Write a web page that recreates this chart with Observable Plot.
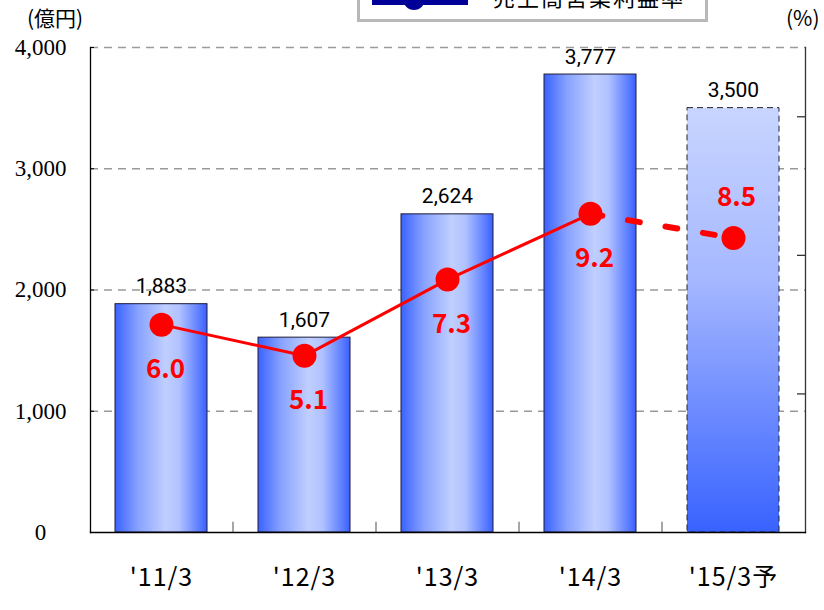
<!DOCTYPE html>
<html><head><meta charset="utf-8">
<script src="https://cdn.jsdelivr.net/npm/d3@7"></script>
<script src="https://cdn.jsdelivr.net/npm/@observablehq/plot@0.6"></script>
<style>
body{margin:0;background:#fff;}
#wrap{position:relative;width:824px;height:610px;overflow:hidden;background:#fff;}
#wrap svg{position:absolute;left:0;top:0;}
.unit{position:absolute;font-family:"Noto Sans CJK JP";font-size:21px;line-height:24px;color:#000;}
#legend{position:absolute;left:357px;top:-22px;width:345px;height:38px;border:3px solid #b8b8b8;background:#fff;}
#legend .ln{position:absolute;left:12px;top:17px;width:96px;height:7px;background:#000099;}
#legend .dt{position:absolute;left:43px;top:7px;width:22px;height:22px;border-radius:50%;background:#000099;}
#legend .tx{position:absolute;left:133px;top:3px;font-family:"Noto Sans CJK JP";font-size:22px;letter-spacing:2px;line-height:24px;color:#000;white-space:nowrap;}
</style></head><body><div id="wrap"></div>
<script>
const categories = ["'11/3", "'12/3", "'13/3", "'14/3", "'15/3予"];
const sales = [1883, 1607, 2624, 3777, 3500];
const marginPct = [6.0, 5.1, 7.3, 9.2, 8.5];
const isForecast = [false, false, false, false, true];
const salesTicks = [0, 1000, 2000, 3000, 4000];
const pctTicks = [4, 8, 12];
const salesMax = 4000;
const pctMax = 14;
const legendLabel = "売上高営業利益率";

const k = salesMax / pctMax;
const fmt = d3.format(",");
const data = categories.map((c, i) => ({cat: c, sales: sales[i], pct: marginPct[i], fc: isForecast[i], py: marginPct[i] * k}));
const actual = data.filter(d => !d.fc);
const fcData = data.filter(d => d.fc);
const lastIdx = data.findIndex(d => d.fc);
const dashedSeg = data.slice(lastIdx - 1);

const W = 824, H = 610, mL = 90, mR = 19, mT = 47, mB = 78;
const step = (W - mL - mR) / categories.length;

const plot = Plot.plot({
  width: W, height: H, marginLeft: mL, marginRight: mR, marginTop: mT, marginBottom: mB,
  x: {domain: categories, paddingInner: 0.356, paddingOuter: 0.178, label: null},
  y: {domain: [0, salesMax], label: null},
  style: {background: "transparent", overflow: "visible"},
  marks: [
    Plot.ruleY(salesTicks.slice(1), {stroke: "#9a9a9a", strokeDasharray: "8,6", strokeWidth: 1.3}),
    Plot.barY(actual, {x: "cat", y: "sales", fill: "url(#gradH)", stroke: "#1c1c3a", strokeWidth: 1}),
    Plot.barY(fcData, {x: "cat", y: "sales", fill: "url(#gradV)", stroke: "#222", strokeDasharray: "6,4", strokeWidth: 1}),
    Plot.text(data, {x: "cat", y: "sales", text: d => fmt(d.sales), dy: -11, lineAnchor: "bottom", fontSize: 21, fontFamily: "Roboto", fill: "#000"}),
    Plot.ruleX(categories.slice(0, -1), {x: d => d, y1: 0, y2: 85, dx: step / 2, stroke: "#777", strokeWidth: 1.3}),
    Plot.frame({anchor: "left", stroke: "#000", strokeWidth: 1.3}),
    Plot.frame({anchor: "right", stroke: "#333", strokeWidth: 1.3}),
    Plot.frame({anchor: "bottom", stroke: "#000", strokeWidth: 1.3}),
    Plot.axisY({anchor: "left", ticks: salesTicks, tickFormat: fmt, tickSize: 0, tickPadding: 50, textAnchor: "middle", fontSize: 23, fill: "#000"}),
    Plot.axisY({anchor: "left", ticks: salesTicks, tickFormat: () => "", tickSize: 4, insetLeft: 4, stroke: "#000"}),
    Plot.axisY({anchor: "right", ticks: pctTicks.map(v => v * k), tickFormat: () => "", tickSize: 9, insetRight: 9, stroke: "#333", strokeWidth: 1.3}),
    Plot.axisX({tickSize: 0, tickPadding: 36, fontSize: 25, fill: "#000"}),
    Plot.line(actual, {x: "cat", y: "py", stroke: "#ff0000", strokeWidth: 3}),
    Plot.line(dashedSeg, {x: "cat", y: "py", stroke: "#ff0000", strokeWidth: 6, strokeDasharray: "12,26"}),
    Plot.dot(data, {x: "cat", y: "py", r: 12, fill: "#ff0000", stroke: "none"}),
    Plot.text(actual, {x: "cat", y: "py", text: d => d.pct.toFixed(1), dy: 45, dx: 4, fontSize: 26, fontWeight: "bold", letterSpacing: "3px", fontFamily: "Noto Sans CJK JP", fill: "#ff0000"}),
    Plot.text(fcData, {x: "cat", y: "py", text: d => d.pct.toFixed(1), dy: -40, dx: 3, fontSize: 26, fontWeight: "bold", letterSpacing: "3px", fontFamily: "Noto Sans CJK JP", fill: "#ff0000"})
  ]
});

const svg = plot.tagName.toLowerCase() === "svg" ? plot : plot.querySelector("svg");
svg.insertAdjacentHTML("afterbegin", `<defs>
<linearGradient id="gradH" x1="0" y1="0" x2="1" y2="0">
<stop offset="0" stop-color="#3a62ff"/><stop offset="0.25" stop-color="#88a2ff"/>
<stop offset="0.55" stop-color="#c0cfff"/><stop offset="0.7" stop-color="#b0c2ff"/>
<stop offset="0.9" stop-color="#6282ff"/><stop offset="1" stop-color="#3a60ff"/>
</linearGradient>
<linearGradient id="gradV" x1="0" y1="0" x2="0" y2="1">
<stop offset="0" stop-color="#c8d5ff"/><stop offset="0.4" stop-color="#a6b8ff"/>
<stop offset="1" stop-color="#3862ff"/>
</linearGradient></defs>`);
svg.style.fontFamily = "'Noto Sans CJK JP'";
svg.querySelectorAll('g[aria-label="y-axis tick label"] text').forEach(t => {
  t.style.fontFamily = "'Liberation Serif', 'DejaVu Serif', serif";
  t.style.fontSize = "23px";
});
svg.querySelectorAll('g[aria-label="x-axis tick label"] text').forEach(t => {
  t.style.fontFamily = "'Noto Sans CJK JP'";
  t.style.fontSize = "25px";
  t.style.letterSpacing = "1px";
});

const wrap = document.getElementById("wrap");
wrap.appendChild(plot);
wrap.insertAdjacentHTML("beforeend", `<div class="unit" style="left:27px;top:5px;">(億円)</div>
<div class="unit" style="left:786px;top:5px;">(%)</div>
<div id="legend"><div class="ln"></div><div class="dt"></div><div class="tx">${legendLabel}</div></div>`);
</script></body></html>
